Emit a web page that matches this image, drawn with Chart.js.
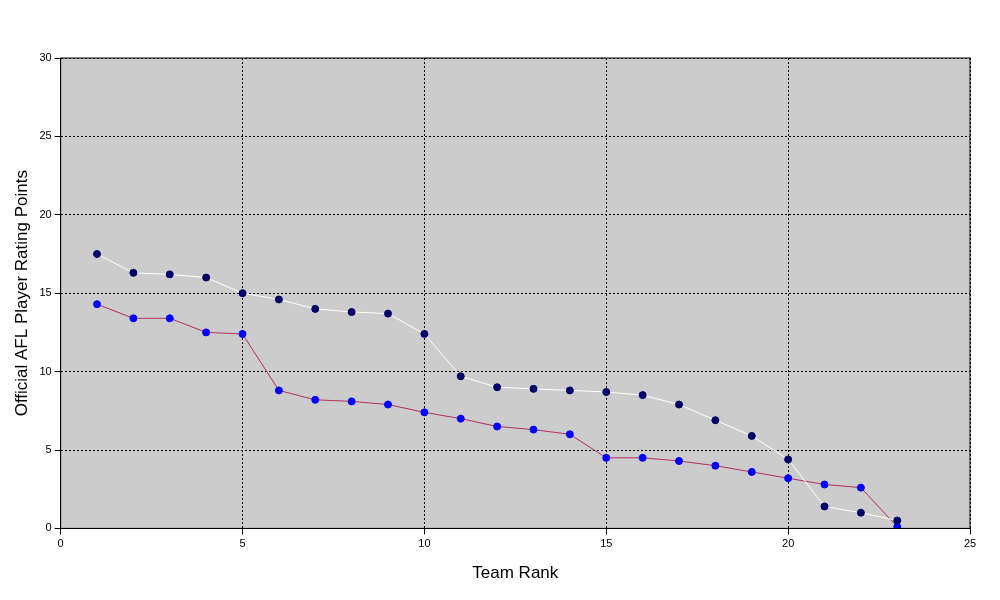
<!DOCTYPE html>
<html>
<head>
<meta charset="utf-8">
<script src="https://cdn.jsdelivr.net/npm/chart.js@4"></script>
<style>
  body { margin: 0; background: #fff; }
</style>
</head>
<body>
<canvas id="myChart" width="1000" height="600"></canvas>
<script>
var ranks = [1,2,3,4,5,6,7,8,9,10,11,12,13,14,15,16,17,18,19,20,21,22,23];
var seriesA = [17.5,16.3,16.2,16.0,15.0,14.6,14.0,13.8,13.7,12.4,9.7,9.0,8.9,8.8,8.7,8.5,7.9,6.9,5.9,4.4,1.4,1.0,0.5];
var seriesB = [14.3,13.4,13.4,12.5,12.4,8.8,8.2,8.1,7.9,7.4,7.0,6.5,6.3,6.0,4.5,4.5,4.3,4.0,3.6,3.2,2.8,2.6,0.1];

function toPoints(vals) {
  return vals.map(function(v, i) { return { x: ranks[i], y: v }; });
}

// grey panel behind the plot + black frame
var panel = {
  id: 'panel',
  beforeDraw: function(chart) {
    var a = chart.chartArea, c = chart.ctx;
    c.save();
    c.fillStyle = '#cccccc';
    c.fillRect(a.left, a.top, a.right - a.left, a.bottom - a.top);
    c.restore();
  },
  afterDraw: function(chart) {
    var a = chart.chartArea, c = chart.ctx;
    c.save();
    c.strokeStyle = '#000';
    c.lineWidth = 1;
    c.strokeRect(a.left, a.top, a.right - a.left, a.bottom - a.top);
    c.restore();
  }
};

var ctx = document.getElementById('myChart');
new Chart(ctx, {
  type: 'scatter',
  data: {
    datasets: [{
      data: toPoints(seriesA),
      showLine: true,
      borderColor: '#ffffff',
      borderWidth: 1,
      pointBackgroundColor: '#000066',
      pointBorderColor: '#000066',
      pointRadius: 3.5
    }, {
      data: toPoints(seriesB),
      showLine: true,
      borderColor: '#b03060',
      borderWidth: 1,
      pointBackgroundColor: '#0000ff',
      pointBorderColor: '#0000ff',
      pointRadius: 3.5
    }]
  },
  plugins: [panel],
  options: {
    responsive: false,
    animation: false,
    layout: { padding: { top: 58, right: 30, left: 8, bottom: 12 } },
    plugins: { legend: { display: false }, tooltip: { enabled: false } },
    scales: {
      x: {
        type: 'linear', min: 0, max: 25,
        ticks: { stepSize: 5, color: '#000', font: { family: 'Arial, Liberation Sans', size: 11 } },
        grid: { color: '#000', tickColor: '#000', tickLength: 6 },
        border: { display: true, color: '#000', dash: [2, 2] },
        title: { display: true, text: 'Team Rank', color: '#000', font: { family: 'Arial, Liberation Sans', size: 17 }, padding: { top: 10 } }
      },
      y: {
        min: 0, max: 30,
        ticks: { stepSize: 5, color: '#000', font: { family: 'Arial, Liberation Sans', size: 11 } },
        grid: { color: '#000', tickColor: '#000', tickLength: 6 },
        border: { display: true, color: '#000', dash: [2, 2] },
        title: { display: true, text: 'Official AFL Player Rating Points', color: '#000', font: { family: 'Arial, Liberation Sans', size: 17 } }
      }
    }
  }
});
</script>
</body>
</html>
